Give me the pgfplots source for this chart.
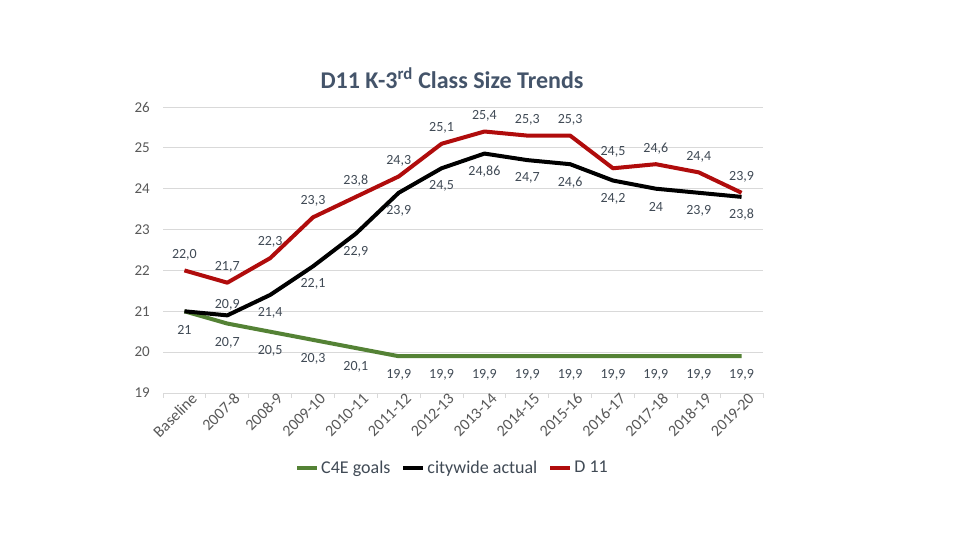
\documentclass[border=0pt]{standalone}
\usepackage{fontspec}
\setmainfont{Carlito}
\usepackage{pgfplots}
\usepackage{pgfplotstable}
\pgfplotsset{compat=1.18}
\definecolor{gridgray}{HTML}{D9D9D9}
\definecolor{ticklab}{HTML}{595959}
\definecolor{datalab}{HTML}{404A55}
\definecolor{titlecol}{HTML}{44546A}
\definecolor{dred}{HTML}{B00C0C}
\definecolor{cgreen}{HTML}{548235}

\pgfplotstableread{
x y lab
0 21.0 21
1 20.7 20,7
2 20.5 20,5
3 20.3 20,3
4 20.1 20,1
5 19.9 19,9
6 19.9 19,9
7 19.9 19,9
8 19.9 19,9
9 19.9 19,9
10 19.9 19,9
11 19.9 19,9
12 19.9 19,9
13 19.9 19,9
}\goals

\pgfplotstableread{
x y lab
0 21.0 21
1 20.9 20,9
2 21.4 21,4
3 22.1 22,1
4 22.9 22,9
5 23.9 23,9
6 24.5 24,5
7 24.86 24,86
8 24.7 24,7
9 24.6 24,6
10 24.2 24,2
11 24.0 24
12 23.9 23,9
13 23.8 23,8
}\city

\pgfplotstableread{
x y lab
2 21.4 21,4
3 22.1 22,1
4 22.9 22,9
5 23.9 23,9
6 24.5 24,5
7 24.86 24,86
8 24.7 24,7
9 24.6 24,6
10 24.2 24,2
11 24.0 24
12 23.9 23,9
13 23.8 23,8
}\citybelow

\pgfplotstableread{
x y lab
1 20.9 20,9
}\cityabove

\pgfplotstableread{
x y lab
0 22.0 22,0
1 21.7 21,7
2 22.3 22,3
3 23.3 23,3
4 23.8 23,8
5 24.3 24,3
6 25.1 25,1
7 25.4 25,4
8 25.3 25,3
9 25.3 25,3
10 24.5 24,5
11 24.6 24,6
12 24.4 24,4
13 23.9 23,9
}\dist

\begin{document}
\begin{tikzpicture}[x=1pt,y=1pt]
\useasboundingbox (0,0) rectangle (960,540);
\fill[white] (0,0) rectangle (960,540);
\node[font=\fontsize{24}{28}\selectfont\bfseries, text=titlecol] at (452,462) {D11 K-3\textsuperscript{rd} Class Size Trends};
\begin{axis}[
  at={(163pt,147pt)}, anchor=south west,
  width=600pt, height=286pt, scale only axis,
  xmin=-0.5, xmax=13.5, ymin=19, ymax=26,
  ytick={19,20,...,26},
  ymajorgrids, grid style={draw=gridgray, line width=0.75pt},
  axis x line*=bottom, axis y line*=left,
  x axis line style={draw=gridgray, line width=0.75pt},
  y axis line style={draw=none},
  xtick={0,...,13},
  xticklabels={Baseline,2007-8,2008-9,2009-10,2010-11,2011-12,2012-13,2013-14,2014-15,2015-16,2016-17,2017-18,2018-19,2019-20},
  minor xtick={-0.5,0.5,...,13.5},
  major tick length=0pt, minor tick length=5pt, tick align=outside,
  xtick style={draw=gridgray, line width=0.75pt},
  ytick style={draw=none},
  ticklabel style={font=\fontsize{15}{18}\selectfont, text=ticklab},
  /pgf/number format/assume math mode=true,
  yticklabel style={anchor=east, inner sep=0pt, xshift=-13pt},
  xticklabel style={rotate=45, anchor=east, inner sep=0pt, yshift=-9pt, xshift=5pt, font=\fontsize{16}{18}\selectfont},
  clip=false,
  legend columns=3,
  legend style={at={(0.4825,-0.262)}, anchor=center, draw=none, fill=none,
    font=\fontsize{18}{21}\selectfont, text=datalab,
    /tikz/every even column/.append style={column sep=9pt}},
  legend image code/.code={\draw[#1, line width=4pt] (0pt,0pt) -- (20pt,0pt);},
  point meta=explicit symbolic,
]
\addplot[cgreen, line width=4pt, line join=round, no marks] table[x=x,y=y] {\goals};
\addlegendentry{C4E goals}
\addplot[black, line width=4pt, line join=round, no marks] table[x=x,y=y] {\city};
\addlegendentry{citywide actual}
\addplot[dred, line width=4pt, line join=round, no marks] table[x=x,y=y] {\dist};
\addlegendentry{D 11}
% labels
\addplot[draw=none, no marks, forget plot, nodes near coords,
  every node near coord/.append style={anchor=center, yshift=-19pt, font=\fontsize{14}{16}\selectfont, text=datalab}]
  table[x=x,y=y,meta=lab] {\goals};
\addplot[draw=none, no marks, forget plot, nodes near coords,
  every node near coord/.append style={anchor=center, yshift=-18pt, font=\fontsize{14}{16}\selectfont, text=datalab}]
  table[x=x,y=y,meta=lab] {\citybelow};
\addplot[draw=none, no marks, forget plot, nodes near coords,
  every node near coord/.append style={anchor=center, yshift=11pt, font=\fontsize{14}{16}\selectfont, text=datalab}]
  table[x=x,y=y,meta=lab] {\cityabove};
\addplot[draw=none, no marks, forget plot, nodes near coords,
  every node near coord/.append style={anchor=center, yshift=16pt, font=\fontsize{14}{16}\selectfont, text=datalab}]
  table[x=x,y=y,meta=lab] {\dist};
\end{axis}
\end{tikzpicture}
\end{document}
